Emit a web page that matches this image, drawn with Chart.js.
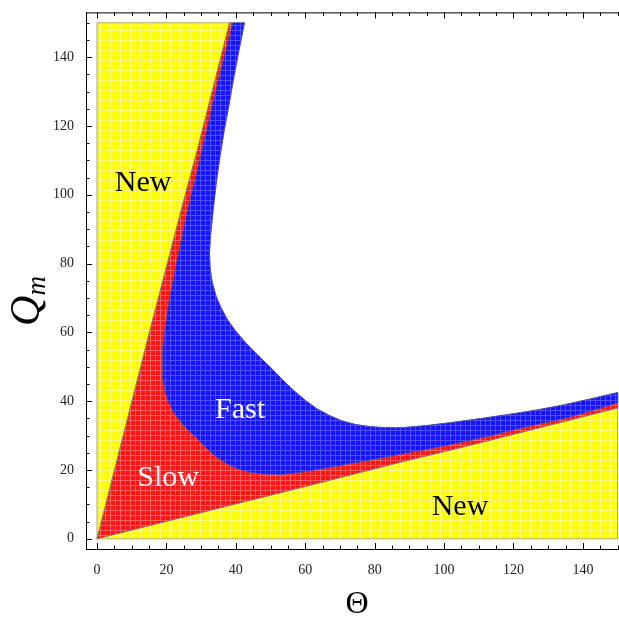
<!DOCTYPE html>
<html><head><meta charset="utf-8">
<script src="https://cdn.jsdelivr.net/npm/chart.js@4.4.0/dist/chart.umd.min.js"></script>
<style>html,body{margin:0;padding:0;overflow:hidden;background:#fff}</style>
</head><body>
<canvas id="c" width="630" height="621" style="display:block;width:630px;height:621px"></canvas>
<script>
// ---- data (Theta, Q_m) ----
// yellow / red boundary (upper-left), from origin up to top edge
const leftLine = [[0,0],[15.1,60.0],[24.3,95.7],[28.9,113],[38.2,150]];
// yellow / red boundary (lower-right), from origin to right edge
const bottomLine = [[0,0],[60,15.2],[88,22.4],[106.4,26.9],[125.6,31.8],[150,38.0]];
// blue / white boundary ("Fast" outer edge), top edge -> right edge
const outerCurve = [[42.5,150],[40.9,142],[39.4,134],[38.0,126],[36.7,119],[35.4,111],[34.3,103],[33.4,95],
  [32.7,88],[32.4,83],[32.6,78.5],[33.2,74.5],[34.3,70.5],[35.8,67],[37.7,63.5],[40,60.3],[42.8,57],
  [46,53.7],[49.9,49.9],[53.7,46],[57,42.8],[60.3,40],[63.5,37.7],[67,35.8],[70.5,34.3],[74.5,33.2],
  [78.5,32.6],[83,32.3],[88,32.3],[95,32.9],[103,33.9],[111,35.0],[119,36.2],[126,37.3],[134,38.8],
  [142,40.6],[150,42.5]];
// red / blue boundary ("Fast" inner edge), top edge -> right edge
const innerCurve = [[39.1,150],[37.6,144],[36.1,138],[34.6,132],[33.2,126],[31.7,119.5],[30.2,113],
  [28.7,106.5],[27.1,100],[25.6,93.5],[24.3,87],[23.0,81],[21.9,75],[20.9,70],[20.1,65],[19.4,60],
  [19.0,55],[18.8,50],[19.0,46],[19.6,42.5],[20.6,39.6],[22.0,36.8],[23.9,34.2],[26.1,31.6],[28.9,29.1],
  [31.6,26.2],[34.2,23.9],[37.3,21.8],[40.2,20.4],[44,19.3],[48,18.8],[53,18.7],[58,19.2],[64,20.2],
  [70,21.3],[76,22.4],[82,23.5],[88,24.7],[94,25.8],[100,27.0],[107,28.5],[114,30.1],[121,31.9],
  [128,33.5],[135,35.0],[142,37.1],[150,39.5]];
const xTicks = [0,20,40,60,80,100,120,140];
const yTicks = [0,20,40,60,80,100,120,140];
const regionLabels = [
  {text:'New', x:13.3, y:101.0, color:'#000'},
  {text:'New', x:104.6, y:6.8, color:'#000'},
  {text:'Fast', x:41.2, y:35.1, color:'#fff'},
  {text:'Slow', x:20.5, y:15.2, color:'#fff'}
];

// ---- polygons built from the boundaries ----
const P = a => a.map(([x,y]) => ({x, y}));
const yellowLeft = P([[0,0],[0,150],...leftLine.slice().reverse()]);
const yellowBottom = P([[0,0],[150,0],...bottomLine.slice().reverse()]);
const redAll = P([...leftLine, ...outerCurve, ...bottomLine.slice().reverse()]);
const blueFast = P([...outerCurve, ...innerCurve.slice().reverse()]);

const canvas = document.getElementById('c');
const ctx = canvas.getContext('2d');
function pat(base, line){
  const t = document.createElement('canvas'); t.width = 5; t.height = 5;
  const g = t.getContext('2d');
  g.fillStyle = base; g.fillRect(0,0,5,5);
  g.fillStyle = line; g.fillRect(0,0,5,1); g.fillRect(0,0,1,5);
  return ctx.createPattern(t, 'repeat');
}
const yPat = pat('#ffff00', '#ffff80');
const rPat = pat('#ff1414', '#ff6060');
const bPat = pat('#1414ff', '#5050ff');

function poly(data, bg, border, order){
  return {data, fill:'shape', backgroundColor:bg, borderColor:border, borderWidth:1,
    pointRadius:0, pointHoverRadius:0, tension:0, order};
}

const decor = {
  id:'decor',
  afterDatasetsDraw(chart){
    const {ctx, scales:{x, y}} = chart;
    ctx.save();
    ctx.font = '30px "Liberation Serif"';
    ctx.textAlign = 'center'; ctx.textBaseline = 'alphabetic';
    for (const l of regionLabels){
      ctx.fillStyle = l.color;
      ctx.fillText(l.text, x.getPixelForValue(l.x), y.getPixelForValue(l.y));
    }
    ctx.restore();
  },
  afterDraw(chart){
    const {ctx, chartArea:a, scales:{x, y}} = chart;
    ctx.save();
    ctx.strokeStyle = '#000'; ctx.lineWidth = 1;
    ctx.beginPath();
    ctx.moveTo(a.left, a.top + 0.5); ctx.lineTo(a.right, a.top + 0.5);
    ctx.moveTo(a.right - 0.5, a.top); ctx.lineTo(a.right - 0.5, a.bottom);
    for (let v = 0; v <= 150; v += 5){
      const major = v % 20 === 0;
      const L = major ? 6 : 3.5;
      const px = Math.round(x.getPixelForValue(v)) + 0.5;
      ctx.moveTo(px, a.bottom); ctx.lineTo(px, a.bottom - L);
      ctx.moveTo(px, a.top); ctx.lineTo(px, a.top + L);
      const py = Math.round(y.getPixelForValue(v)) + 0.5;
      ctx.moveTo(a.left, py); ctx.lineTo(a.left + L, py);
      ctx.moveTo(a.right, py); ctx.lineTo(a.right - L, py);
    }
    ctx.stroke();
    // y-axis title Q_m
    ctx.translate(39, 301);
    ctx.rotate(-Math.PI/2);
    ctx.fillStyle = '#000';
    ctx.textBaseline = 'alphabetic'; ctx.textAlign = 'left';
    ctx.font = 'italic 42px "Liberation Serif"';
    const wQ = ctx.measureText('Q').width;
    ctx.font = 'italic 27px "Liberation Serif"';
    const wm = ctx.measureText('m').width;
    const s = -(wQ + wm) / 2;
    ctx.font = 'italic 42px "Liberation Serif"';
    ctx.fillText('Q', s, 0);
    ctx.font = 'italic 27px "Liberation Serif"';
    ctx.fillText('m', s + wQ, 6);
    ctx.restore();
  }
};

new Chart(ctx, {
  type:'line',
  data:{datasets:[
    poly(blueFast, bPat, 'rgba(80,80,170,0.9)', 0),
    poly(redAll, rPat, 'rgba(140,120,110,0.9)', 1),
    poly(yellowLeft, yPat, 'rgba(170,160,110,0.9)', 2),
    poly(yellowBottom, yPat, 'rgba(170,160,110,0.9)', 3)
  ]},
  options:{
    responsive:false, animation:false, events:[],
    layout:{padding:{top:8, right:2, left:0, bottom:0}},
    plugins:{legend:{display:false}, tooltip:{enabled:false}},
    scales:{
      x:{type:'linear', min:-3.17, max:153,
        afterBuildTicks:s => { s.ticks = xTicks.map(v => ({value:v})); },
        afterFit:s => { s.height = 72; },
        grid:{display:false}, border:{display:true, color:'#000', width:1},
        ticks:{font:{family:'Liberation Serif', size:14}, color:'#222', padding:5, maxRotation:0, autoSkip:false},
        title:{display:true, text:'Θ', color:'#000', font:{family:'Liberation Serif', size:32, lineHeight:1}, padding:{top:0, bottom:0}}
      },
      y:{type:'linear', min:-2.97, max:153,
        afterBuildTicks:s => { s.ticks = yTicks.map(v => ({value:v})); },
        afterFit:s => { s.width = 86; },
        grid:{display:false}, border:{display:true, color:'#000', width:1},
        ticks:{font:{family:'Liberation Serif', size:14}, color:'#222', padding:4, autoSkip:false}
      }
    }
  },
  plugins:[decor]
});
</script>
</body></html>
